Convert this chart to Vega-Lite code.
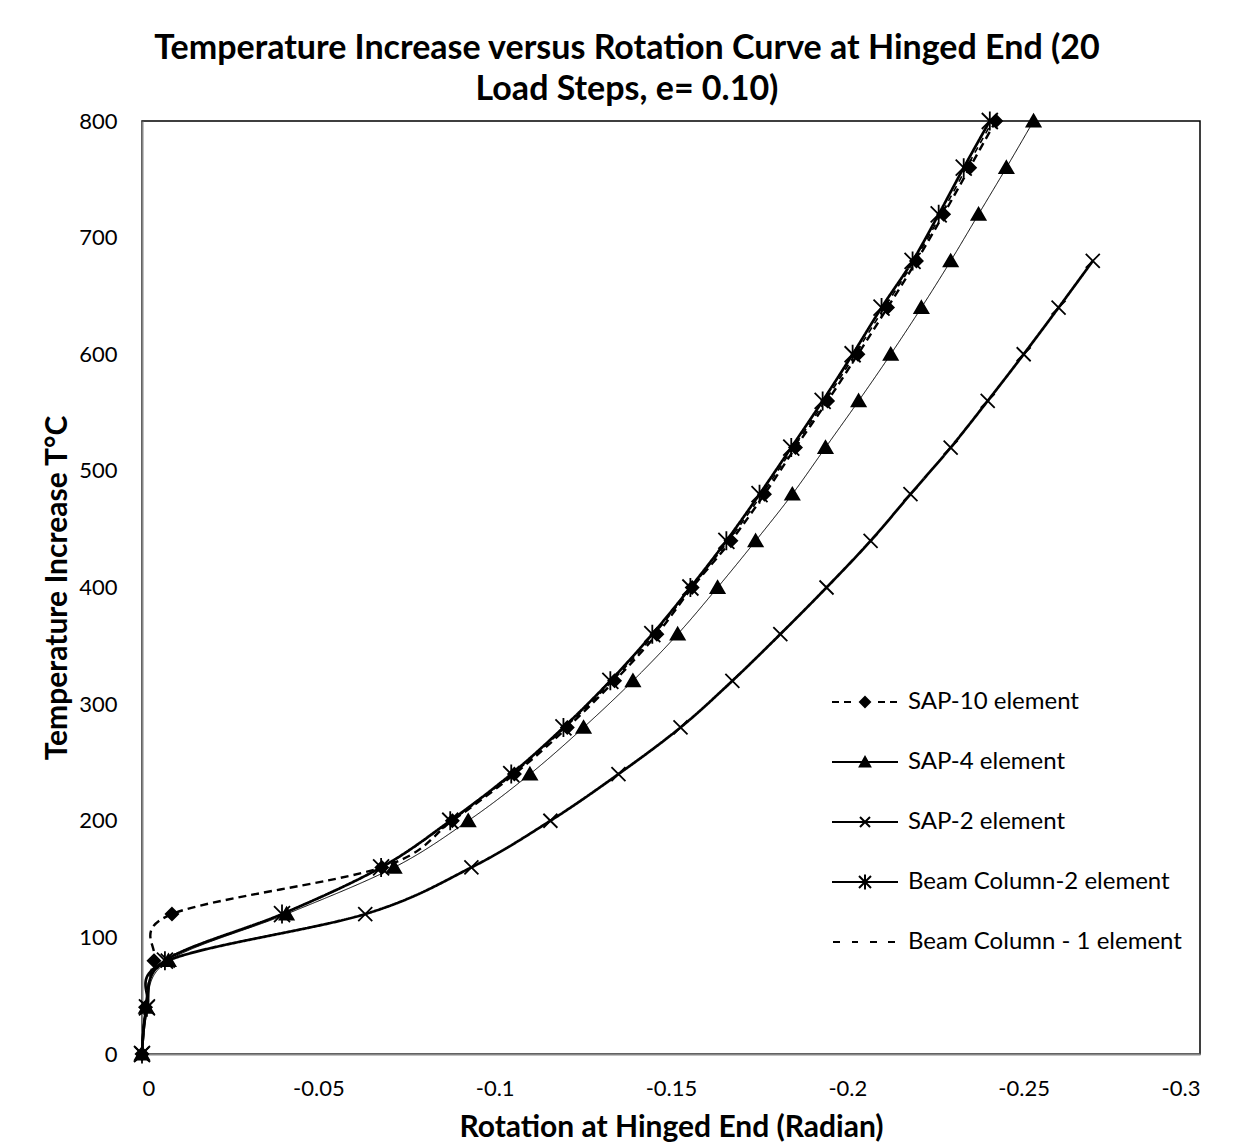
{
  "$schema": "https://vega.github.io/schema/vega-lite/v6.json",
  "width": 1058,
  "height": 933,
  "autosize": {"type": "none"},
  "padding": {"left": 142, "top": 121, "right": 53, "bottom": 92},
  "background": "white",
  "config": {
    "font": "Lato",
    "view": {"stroke": "black", "strokeWidth": 1.5},
    "axis": {
      "domainColor": "#868686",
      "domainWidth": 2,
      "ticks": false,
      "grid": false,
      "labelFontSize": 22,
      "labelColor": "black",
      "titleFontSize": 30,
      "titleFontWeight": "bold",
      "titleColor": "black",
      "labelFont": "Lato",
      "titleFont": "Lato"
    }
  },
  "title": {
    "text": ["Temperature Increase versus Rotation Curve at Hinged End (20", "Load Steps, e= 0.10)"],
    "fontSize": 34,
    "fontWeight": "bold",
    "font": "Lato",
    "color": "black",
    "anchor": "middle",
    "dx": -44,
    "lineHeight": 41,
    "offset": 1
  },
  "data": {
    "values": [
      {"series": "SAP-10 element", "T": 0, "rot": 0},
      {"series": "SAP-10 element", "T": 40, "rot": -0.001},
      {"series": "SAP-10 element", "T": 80, "rot": -0.0034},
      {"series": "SAP-10 element", "T": 120, "rot": -0.0085},
      {"series": "SAP-10 element", "T": 160, "rot": -0.068},
      {"series": "SAP-10 element", "T": 200, "rot": -0.088},
      {"series": "SAP-10 element", "T": 240, "rot": -0.1056},
      {"series": "SAP-10 element", "T": 280, "rot": -0.1206},
      {"series": "SAP-10 element", "T": 320, "rot": -0.134},
      {"series": "SAP-10 element", "T": 360, "rot": -0.146},
      {"series": "SAP-10 element", "T": 400, "rot": -0.156},
      {"series": "SAP-10 element", "T": 440, "rot": -0.167},
      {"series": "SAP-10 element", "T": 480, "rot": -0.1765},
      {"series": "SAP-10 element", "T": 520, "rot": -0.1853},
      {"series": "SAP-10 element", "T": 560, "rot": -0.1944},
      {"series": "SAP-10 element", "T": 600, "rot": -0.203},
      {"series": "SAP-10 element", "T": 640, "rot": -0.2114},
      {"series": "SAP-10 element", "T": 680, "rot": -0.2196},
      {"series": "SAP-10 element", "T": 720, "rot": -0.2273},
      {"series": "SAP-10 element", "T": 760, "rot": -0.2347},
      {"series": "SAP-10 element", "T": 800, "rot": -0.2421},
      {"series": "SAP-4 element", "T": 0, "rot": 0},
      {"series": "SAP-4 element", "T": 40, "rot": -0.0012},
      {"series": "SAP-4 element", "T": 80, "rot": -0.0075},
      {"series": "SAP-4 element", "T": 120, "rot": -0.041},
      {"series": "SAP-4 element", "T": 160, "rot": -0.0715},
      {"series": "SAP-4 element", "T": 200, "rot": -0.0925},
      {"series": "SAP-4 element", "T": 240, "rot": -0.11},
      {"series": "SAP-4 element", "T": 280, "rot": -0.1252},
      {"series": "SAP-4 element", "T": 320, "rot": -0.1392},
      {"series": "SAP-4 element", "T": 360, "rot": -0.1519},
      {"series": "SAP-4 element", "T": 400, "rot": -0.1632},
      {"series": "SAP-4 element", "T": 440, "rot": -0.174},
      {"series": "SAP-4 element", "T": 480, "rot": -0.1844},
      {"series": "SAP-4 element", "T": 520, "rot": -0.1938},
      {"series": "SAP-4 element", "T": 560, "rot": -0.2032},
      {"series": "SAP-4 element", "T": 600, "rot": -0.2123},
      {"series": "SAP-4 element", "T": 640, "rot": -0.221},
      {"series": "SAP-4 element", "T": 680, "rot": -0.2293},
      {"series": "SAP-4 element", "T": 720, "rot": -0.2372},
      {"series": "SAP-4 element", "T": 760, "rot": -0.2451},
      {"series": "SAP-4 element", "T": 800, "rot": -0.2528},
      {"series": "SAP-2 element", "T": 0, "rot": 0},
      {"series": "SAP-2 element", "T": 40, "rot": -0.0015},
      {"series": "SAP-2 element", "T": 80, "rot": -0.0073},
      {"series": "SAP-2 element", "T": 120, "rot": -0.0633},
      {"series": "SAP-2 element", "T": 160, "rot": -0.0934},
      {"series": "SAP-2 element", "T": 200, "rot": -0.1158},
      {"series": "SAP-2 element", "T": 240, "rot": -0.1351},
      {"series": "SAP-2 element", "T": 280, "rot": -0.1527},
      {"series": "SAP-2 element", "T": 320, "rot": -0.1674},
      {"series": "SAP-2 element", "T": 360, "rot": -0.181},
      {"series": "SAP-2 element", "T": 400, "rot": -0.1941},
      {"series": "SAP-2 element", "T": 440, "rot": -0.2066},
      {"series": "SAP-2 element", "T": 480, "rot": -0.2179},
      {"series": "SAP-2 element", "T": 520, "rot": -0.2293},
      {"series": "SAP-2 element", "T": 560, "rot": -0.2398},
      {"series": "SAP-2 element", "T": 600, "rot": -0.25},
      {"series": "SAP-2 element", "T": 640, "rot": -0.2599},
      {"series": "SAP-2 element", "T": 680, "rot": -0.2696},
      {"series": "Beam Column-2 element", "T": 0, "rot": 0},
      {"series": "Beam Column-2 element", "T": 40, "rot": -0.0014},
      {"series": "Beam Column-2 element", "T": 80, "rot": -0.0065},
      {"series": "Beam Column-2 element", "T": 120, "rot": -0.0397},
      {"series": "Beam Column-2 element", "T": 160, "rot": -0.0678},
      {"series": "Beam Column-2 element", "T": 200, "rot": -0.0874},
      {"series": "Beam Column-2 element", "T": 240, "rot": -0.1047},
      {"series": "Beam Column-2 element", "T": 280, "rot": -0.1195},
      {"series": "Beam Column-2 element", "T": 320, "rot": -0.1328},
      {"series": "Beam Column-2 element", "T": 360, "rot": -0.1447},
      {"series": "Beam Column-2 element", "T": 400, "rot": -0.1555},
      {"series": "Beam Column-2 element", "T": 440, "rot": -0.1657},
      {"series": "Beam Column-2 element", "T": 480, "rot": -0.1751},
      {"series": "Beam Column-2 element", "T": 520, "rot": -0.1841},
      {"series": "Beam Column-2 element", "T": 560, "rot": -0.193},
      {"series": "Beam Column-2 element", "T": 600, "rot": -0.2015},
      {"series": "Beam Column-2 element", "T": 640, "rot": -0.2097},
      {"series": "Beam Column-2 element", "T": 680, "rot": -0.2185},
      {"series": "Beam Column-2 element", "T": 720, "rot": -0.2259},
      {"series": "Beam Column-2 element", "T": 760, "rot": -0.233},
      {"series": "Beam Column-2 element", "T": 800, "rot": -0.2404},
      {"series": "Beam Column - 1 element", "T": 0, "rot": 0},
      {"series": "Beam Column - 1 element", "T": 40, "rot": -0.0013},
      {"series": "Beam Column - 1 element", "T": 80, "rot": -0.0063},
      {"series": "Beam Column - 1 element", "T": 120, "rot": -0.0398},
      {"series": "Beam Column - 1 element", "T": 160, "rot": -0.0679},
      {"series": "Beam Column - 1 element", "T": 200, "rot": -0.0877},
      {"series": "Beam Column - 1 element", "T": 240, "rot": -0.1051},
      {"series": "Beam Column - 1 element", "T": 280, "rot": -0.12},
      {"series": "Beam Column - 1 element", "T": 320, "rot": -0.1334},
      {"series": "Beam Column - 1 element", "T": 360, "rot": -0.1453},
      {"series": "Beam Column - 1 element", "T": 400, "rot": -0.1558},
      {"series": "Beam Column - 1 element", "T": 440, "rot": -0.1663},
      {"series": "Beam Column - 1 element", "T": 480, "rot": -0.1758},
      {"series": "Beam Column - 1 element", "T": 520, "rot": -0.1847},
      {"series": "Beam Column - 1 element", "T": 560, "rot": -0.1937},
      {"series": "Beam Column - 1 element", "T": 600, "rot": -0.2022},
      {"series": "Beam Column - 1 element", "T": 640, "rot": -0.2105},
      {"series": "Beam Column - 1 element", "T": 680, "rot": -0.219},
      {"series": "Beam Column - 1 element", "T": 720, "rot": -0.2266},
      {"series": "Beam Column - 1 element", "T": 760, "rot": -0.2338},
      {"series": "Beam Column - 1 element", "T": 800, "rot": -0.2412}
    ]
  },
  "encoding": {
    "x": {
      "field": "rot",
      "type": "quantitative",
      "scale": {"domain": [-0.3, 0], "reverse": true, "nice": false, "zero": false},
      "axis": {
        "values": [0, -0.05, -0.1, -0.15, -0.2, -0.25, -0.3],
        "labelExpr": "'' + datum.value",
        "labelPadding": 24,
        "title": "Rotation at Hinged End (Radian)",
        "titlePadding": 13
      }
    },
    "y": {
      "field": "T",
      "type": "quantitative",
      "scale": {"domain": [0, 800], "nice": false},
      "axis": {
        "values": [0, 100, 200, 300, 400, 500, 600, 700, 800],
        "labelPadding": 25,
        "title": "Temperature Increase T°C",
        "titlePadding": 6
      }
    }
  },
  "layer": [
    {
      "mark": {"type": "line", "interpolate": "cardinal", "color": "black"},
      "encoding": {
        "order": {"field": "T", "type": "quantitative"},
        "strokeDash": {
          "field": "series",
          "type": "nominal",
          "scale": {
            "type": "ordinal",
            "domain": ["SAP-10 element", "SAP-4 element", "SAP-2 element", "Beam Column-2 element", "Beam Column - 1 element"],
            "range": [[8, 5], [1, 0], [1, 0], [1, 0], [6, 5]]
          },
          "legend": null
        },
        "strokeWidth": {
          "field": "series",
          "type": "nominal",
          "scale": {
            "type": "ordinal",
            "domain": ["SAP-10 element", "SAP-4 element", "SAP-2 element", "Beam Column-2 element", "Beam Column - 1 element"],
            "range": [2.4, 1, 2.7, 2.7, 1.6]
          },
          "legend": null
        }
      }
    },
    {
      "transform": [{"filter": "datum.series != 'Beam Column - 1 element'"}],
      "mark": {"type": "point", "filled": true, "color": "black", "stroke": "black", "strokeWidth": 1.8, "size": 100, "opacity": 1},
      "encoding": {
        "shape": {
          "field": "series",
          "type": "nominal",
          "scale": {
            "domain": ["SAP-10 element", "SAP-4 element", "SAP-2 element", "Beam Column-2 element"],
            "range": [
              "M0,-1.25L1.25,0L0,1.25L-1.25,0Z",
              "M0,-1.3L1.4,1.1L-1.4,1.1Z",
              "M-1.4,-1.4L1.4,1.4M-1.4,1.4L1.4,-1.4",
              "M-1.6,-1.6L1.6,1.6M-1.6,1.6L1.6,-1.6M0,-1.9L0,1.9"
            ]
          },
          "legend": null
        }
      }
    },
    {
      "transform": [{"filter": "datum.T == 0"}],
      "mark": {"type": "point", "filled": false, "color": "black", "strokeWidth": 2, "size": 400, "opacity": 0},
      "encoding": {
        "shape": {
          "field": "series",
          "type": "nominal",
          "scale": {
            "domain": ["SAP-10 element", "SAP-4 element", "SAP-2 element", "Beam Column-2 element", "Beam Column - 1 element"],
            "range": [
              "M-3.3,0L-2.6,0M-2.1,0L-1.4,0M1.3,0L2,0M2.5,0L3.2,0M0,-0.5L0.5,0L0,0.5L-0.5,0ZM0,-0.3L0.3,0L0,0.3L-0.3,0ZM0,-0.12L0.12,0L0,0.12L-0.12,0Z",
              "M-3.3,0L3.3,0M0,-0.5L0.52,0.45L-0.52,0.45ZM-0.08,-0.35L0.08,-0.35M-0.16,-0.2L0.16,-0.2M-0.25,-0.05L0.25,-0.05M-0.33,0.1L0.33,0.1M-0.41,0.25L0.41,0.25M-0.48,0.38L0.48,0.38",
              "M-3.3,0L3.3,0M-0.5,-0.5L0.5,0.5M-0.5,0.5L0.5,-0.5",
              "M-3.3,0L3.3,0M-0.6,-0.6L0.6,0.6M-0.6,0.6L0.6,-0.6M0,-0.75L0,0.75",
              "M-3.2,0L-2.5,0M-1.3,0L-0.7,0M0.5,0L1.2,0M2.3,0L3,0"
            ]
          },
          "legend": {
            "title": null,
            "orient": "none",
            "legendX": 711,
            "legendY": 569,
            "padding": 0,
            "labelFontSize": 24,
            "labelFont": "Lato",
            "labelColor": "black",
            "labelOffset": 31,
            "labelLimit": 500,
            "rowPadding": 36,
            "symbolSize": 400,
            "symbolStrokeColor": "black",
            "symbolStrokeWidth": 2,
            "symbolOpacity": 1
          }
        }
      }
    }
  ],
  "resolve": {"scale": {"shape": "independent"}}
}
